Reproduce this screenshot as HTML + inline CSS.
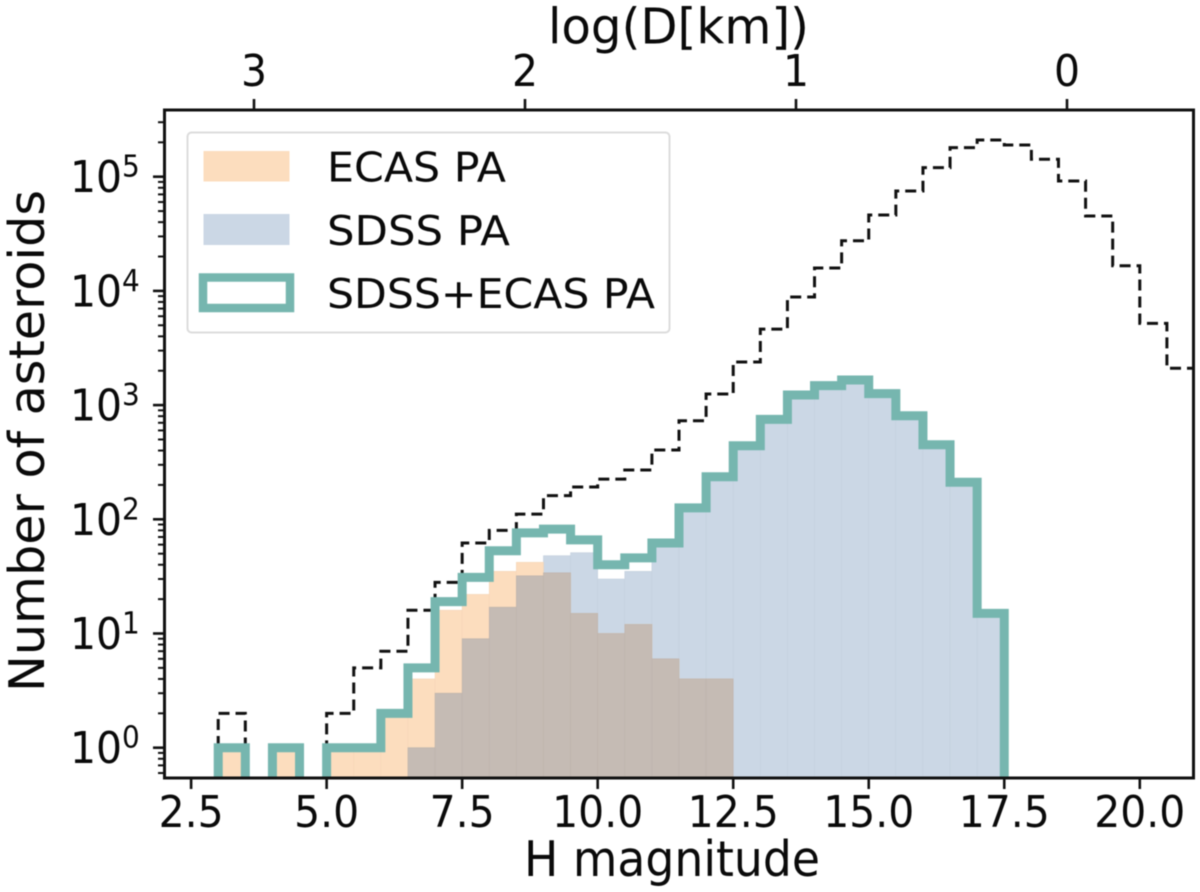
<!DOCTYPE html>
<html>
<head>
<meta charset="utf-8">
<title>Asteroid H magnitude histogram</title>
<style>
html,body{margin:0;padding:0;background:#fff;}
svg{display:block;filter:blur(0.45px);}
text{font-family:"DejaVu Sans","Liberation Sans",sans-serif;fill:#0a0a0a;}
</style>
</head>
<body>
<svg id="chart" xmlns="http://www.w3.org/2000/svg" width="1200" height="892" viewBox="0 0 1200 892">
  <defs>
    <clipPath id="plot-clip"><rect x="164" y="110" width="1030" height="668"/></clipPath>
  </defs>
  <rect x="0" y="0" width="1200" height="892" fill="#ffffff"/>
  <g id="fills" clip-path="url(#plot-clip)"></g>
  <g id="lines" clip-path="url(#plot-clip)"></g>
  <g id="ticks"></g>
  <rect x="164.5" y="110" width="1029" height="668" fill="none" stroke="#111" stroke-width="3"/>
  <g>
    <rect x="187.5" y="132.5" width="482" height="200" rx="4" ry="4" fill="#ffffff" fill-opacity="0.9" stroke="#dcdcdc" stroke-width="2"/>
    <rect x="203.5" y="151" width="86" height="30.5" fill="#fcddbe"/>
    <text x="327" y="181.5" font-size="41" textLength="179" lengthAdjust="spacingAndGlyphs">ECAS PA</text>
    <rect x="203.5" y="214" width="86" height="31" fill="#cbd7e5"/>
    <text x="327" y="245" font-size="41" textLength="183" lengthAdjust="spacingAndGlyphs">SDSS PA</text>
    <rect x="203" y="277.5" width="87" height="30.5" fill="#ffffff" stroke="#76b6af" stroke-width="8.5"/>
    <text x="327" y="308" font-size="41" textLength="328" lengthAdjust="spacingAndGlyphs">SDSS+ECAS PA</text>
  </g>
  <text transform="translate(44,692) rotate(-90)" font-size="49" textLength="502" lengthAdjust="spacingAndGlyphs">Number of asteroids</text>
  <text x="524" y="876" font-size="49" textLength="296" lengthAdjust="spacingAndGlyphs">H magnitude</text>
  <text x="548" y="43.5" font-size="49" textLength="261" lengthAdjust="spacingAndGlyphs">log(D[km])</text>
</svg>
<script>
// Histogram bins start at H = 3.0 and are 0.5 wide
const binStart = 3.0;
const binWidth = 0.5;
const allAsteroids = [2,0,1,0,2,5,7,16,28,62,80,111,161,192,225,270,404,730,1250,2387,4630,8850,15850,27500,46200,75000,120000,179500,209500,189500,142000,91700,45300,16620,5200,2100];
const ecasCounts = [1,0,1,0,1,1,2,4,16,22,35,42,34,15,10,12,6,4,4,0,0,0,0,0,0,0,0,0,0,0,0,0,0,0,0,0];
const sdssCounts = [0,0,0,0,0,0,0,1,3,9,17,32,48,51,30,35,58,120,230,435,745,1220,1475,1650,1255,800,445,210,15,0,0,0,0,0,0,0];
const combinedCounts = [1,0,1,0,1,1,2,5,19,31,53,76,82,66,40,46,62,126,236,441,750,1225,1480,1660,1260,807,450,211,15,0,0,0,0,0,0,0];
const xTickValues = [2.5,5.0,7.5,10.0,12.5,15.0,17.5,20.0];
const xTickLabels = ["2.5","5.0","7.5","10.0","12.5","15.0","17.5","20.0"];
const yTickExponents = [0,1,2,3,4,5];
const topTickValues = [3,2,1,0];

const NS = "http://www.w3.org/2000/svg";
const plot = {left:164, right:1194, top:110, bottom:778};
const xDomain = [2, 21];
const yZeroPx = 747.7;
const yDecadePx = 114.2;

function xScale(h){ return plot.left + (h - xDomain[0]) * (plot.right - plot.left) / (xDomain[1] - xDomain[0]); }
function yScale(v){ return v > 0 ? yZeroPx - Math.log10(v) * yDecadePx : plot.bottom + 20; }
function topScale(logD){ return 1067 - 271 * logD; }

function make(tag, attrs, parent){
  const el = document.createElementNS(NS, tag);
  for (const k in attrs) el.setAttribute(k, attrs[k]);
  parent.appendChild(el);
  return el;
}

const fills = document.getElementById("fills");
const lines = document.getElementById("lines");
const ticks = document.getElementById("ticks");

function drawBars(values, color, edge, name){
  values.forEach(function(v, i){
    if (v <= 0) return;
    const x0 = xScale(binStart + i * binWidth);
    const x1 = xScale(binStart + (i + 1) * binWidth);
    const y = yScale(v);
    const bar = make("rect", {x:x0, y:y, width:x1 - x0, height:plot.bottom - y, fill:color, stroke:edge, "stroke-width":0.6}, fills);
    
    
  });
}

function stepPath(values){
  let d = "";
  const base = yScale(0);
  values.forEach(function(v, i){
    const x0 = xScale(binStart + i * binWidth);
    const x1 = xScale(binStart + (i + 1) * binWidth);
    const y = yScale(v);
    d += (i === 0 ? "M" + x0 + " " + base + " " : "") + "L" + x0 + " " + y + " L" + x1 + " " + y + " ";
  });
  const endX = xScale(binStart + values.length * binWidth);
  d += "L" + endX + " " + base;
  return d;
}

drawBars(sdssCounts, "#cbd7e5", "#c4d0de", "bar-sdss");
drawBars(ecasCounts, "#fcddbe", "#f5d6b7", "bar-ecas");
drawBars(ecasCounts.map(function(v, i){ return Math.min(v, sdssCounts[i]); }), "#c5bbb4", "#bdb3ac", "bar-overlap");

const allLine = make("path", {d:stepPath(allAsteroids), fill:"none", stroke:"#111", "stroke-width":3, "stroke-dasharray":"11 6"}, lines);



const combinedLine = make("path", {d:stepPath(combinedCounts), fill:"none", stroke:"#76b6af", "stroke-width":9, "stroke-linejoin":"miter"}, lines);



function label(x, y, str, size, anchor){
  const t = make("text", {transform:"translate(" + x + "," + y + ") scale(0.93,1)", "font-size":size, "text-anchor":anchor}, ticks);
  t.textContent = str;
  return t;
}

xTickValues.forEach(function(v, i){
  const x = xScale(v);
  const tick = make("line", {x1:x, x2:x, y1:plot.bottom, y2:789, stroke:"#111", "stroke-width":2.6}, ticks);
  
  
  const t = label(x, 827, xTickLabels[i], 44, "middle");
  
  
});

topTickValues.forEach(function(v){
  const x = topScale(v);
  const tick = make("line", {x1:x, x2:x, y1:plot.top, y2:99, stroke:"#111", "stroke-width":2.6}, ticks);
  
  
  const t = label(x, 86, String(v), 44, "middle");
  
  
});

yTickExponents.forEach(function(e){
  const y = yScale(Math.pow(10, e));
  const tick = make("line", {x1:153, x2:plot.left, y1:y, y2:y, stroke:"#111", "stroke-width":2.6}, ticks);
  
  
  const base = label(70, y + 15.5, "10", 44, "start");
  
  
  const sup = label(122, y, String(e), 30, "start");
  
  
});

[-1,0,1,2,3,4,5].forEach(function(e){
  for (let m = 2; m <= 9; m++){
    const y = yScale(m * Math.pow(10, e));
    if (y < plot.top || y > plot.bottom) continue;
    const minor = make("line", {x1:158, x2:plot.left, y1:y, y2:y, stroke:"#111", "stroke-width":2}, ticks);
    
    
  }
});
</script>
</body>
</html>
